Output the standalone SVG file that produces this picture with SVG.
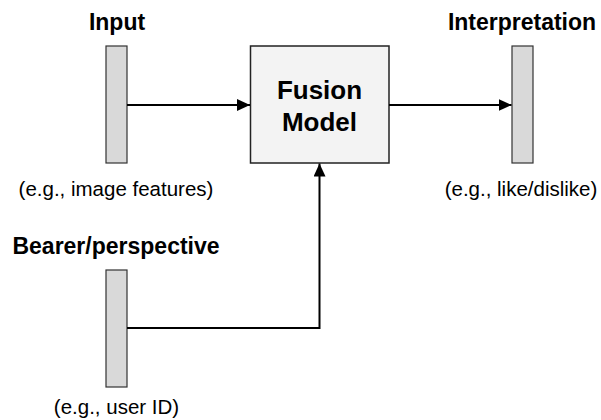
<svg xmlns="http://www.w3.org/2000/svg" width="601" height="420" viewBox="0 0 601 420">
<defs>
<style>
.bar{fill:#d9d9d9;stroke:#333;stroke-width:1.2}
.box{fill:#f3f3f3;stroke:#222;stroke-width:1.5}
.lbl{font-family:"Liberation Sans",Arial,sans-serif;font-weight:bold;font-size:23px;fill:#000;text-anchor:middle}
.big{font-family:"Liberation Sans",Arial,sans-serif;font-weight:bold;font-size:26px;fill:#000;text-anchor:middle}
.sub{font-family:"Liberation Sans",Arial,sans-serif;font-size:20.5px;fill:#000;text-anchor:middle}
.conn{fill:none;stroke:#000;stroke-width:2}
</style>
<marker id="ah" markerWidth="14" markerHeight="12" refX="13" refY="6" orient="auto" markerUnits="userSpaceOnUse">
<path d="M0,0 L13,6 L0,12 Z" fill="#000"/>
</marker>
</defs>
<g id="input">
<text class="lbl" x="117" y="30">Input</text>
<rect class="bar" x="106" y="46" width="21" height="117"/>
<text class="sub" x="116" y="196">(e.g., image features)</text>
</g>
<g id="fusion">
<rect class="box" x="250.5" y="46" width="138.5" height="117"/>
<text class="big" x="319.5" y="99">Fusion</text>
<text class="big" x="319.5" y="131">Model</text>
</g>
<g id="interpretation">
<text class="lbl" x="522" y="30">Interpretation</text>
<rect class="bar" x="512" y="46" width="21" height="117"/>
<text class="sub" x="521" y="196">(e.g., like/dislike)</text>
</g>
<g id="bearer">
<text class="lbl" x="116" y="254">Bearer/perspective</text>
<rect class="bar" x="106" y="270" width="21" height="117"/>
<text class="sub" x="116.5" y="414">(e.g., user ID)</text>
</g>
<g id="connectors">
<path class="conn" d="M127,105 L250,105" marker-end="url(#ah)"/>
<path class="conn" d="M389,105 L511.5,105" marker-end="url(#ah)"/>
<path class="conn" d="M127,328 L319.5,328 L319.5,163.5" marker-end="url(#ah)"/>
</g>
</svg>
